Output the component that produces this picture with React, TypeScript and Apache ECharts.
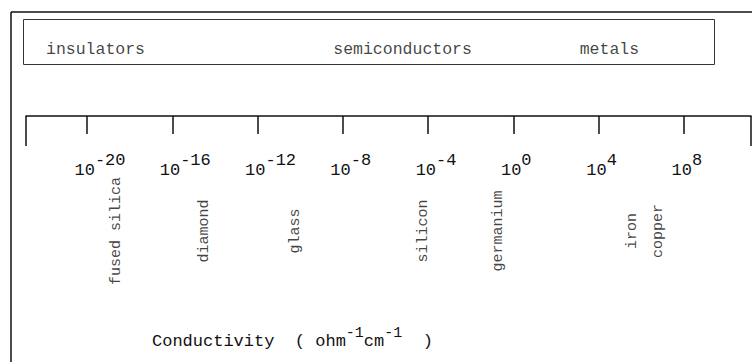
import { useEffect, useRef } from "react";
import * as echarts from "echarts";

const tickExponents = [-20, -16, -12, -8, -4, 0, 4, 8];
const classNames = ["insulators", "semiconductors", "metals"];
const classCenters = [-19.6, -5.2, 4.5];
const materials = ["fused silica", "diamond", "glass", "silicon", "germanium", "iron", "copper"];
const materialExponents = [-18.6, -14.5, -10.2, -4.2, -0.7, 5.6, 6.8];
const titleParts = ["Conductivity  ( ohm", "-1", "cm", "-1", "  )"];

const AXIS_MIN = -22.86;
const AXIS_MAX = 11.14;
const FONT = "Liberation Mono";
const CHAR_W = 10.2;

export default function App() {
  const ref = useRef<HTMLDivElement>(null);
  useEffect(() => {
    if (!ref.current) return;
    const chart = echarts.init(ref.current, null, { renderer: "svg" });
    const ink = "#111";
    const option: any = {
      animation: false,
      backgroundColor: "#fff",
      title: {
        left: 152,
        top: 327,
        padding: 0,
        text: `{a|${titleParts[0]}}{s|${titleParts[1]}}{a|${titleParts[2]}}{s|${titleParts[3]}}{a|${titleParts[4]}}`,
        textStyle: {
          fontWeight: "normal",
          rich: {
            a: { fontFamily: FONT, fontSize: 17, fontWeight: "normal", color: ink, lineHeight: 20, padding: [8, 0, 0, 0] },
            s: { fontFamily: FONT, fontSize: 15, fontWeight: "normal", color: ink, lineHeight: 20, padding: [0, 0, 8, 0] },
          },
        },
      },
      grid: [
        { left: 26, right: 1, top: 19, bottom: 246 },
        { left: 26, right: 1, top: 181, height: 100 },
      ],
      xAxis: [
        {
          gridIndex: 0,
          type: "value",
          min: AXIS_MIN,
          max: AXIS_MAX,
          position: "bottom",
          axisLine: { show: true, lineStyle: { color: ink, width: 1.5 } },
          axisTick: { show: true, customValues: tickExponents, length: 18, lineStyle: { color: ink, width: 1.5 } },
          splitLine: { show: false },
          axisLabel: {
            show: true,
            customValues: tickExponents,
            margin: 39,
            formatter: (v: number) => {
              const e = String(v);
              const rest = 3 - e.length;
              return `{p|}{b|10}{s|${e}}` + (rest > 0 ? `{q${rest}|}` : "");
            },
            rich: {
              p: { width: 26, lineHeight: 20 },
              q1: { width: CHAR_W, lineHeight: 20 },
              q2: { width: CHAR_W * 2, lineHeight: 20 },
              b: { fontFamily: FONT, fontSize: 17, color: ink, lineHeight: 20, padding: [10, 0, 0, 0] },
              s: { fontFamily: FONT, fontSize: 17, color: ink, lineHeight: 20, padding: [0, 0, 10, 0] },
            },
          },
        },
        {
          gridIndex: 0,
          type: "value",
          min: AXIS_MIN,
          max: AXIS_MAX,
          position: "bottom",
          axisLine: { show: false },
          axisTick: { show: true, customValues: [AXIS_MIN, AXIS_MAX], length: 30, lineStyle: { color: ink, width: 1.5 } },
          axisLabel: { show: false },
          splitLine: { show: false },
        },
        {
          gridIndex: 1,
          type: "value",
          min: AXIS_MIN,
          max: AXIS_MAX,
          show: false,
        },
      ],
      yAxis: [
        { gridIndex: 0, type: "value", min: 0, max: 1, show: false },
        { gridIndex: 1, type: "value", min: 0, max: 1, show: false },
      ],
      graphic: [
        { type: "line", shape: { x1: 11, y1: 12, x2: 752, y2: 12 }, style: { stroke: ink, lineWidth: 1.5 } },
        { type: "line", shape: { x1: 11, y1: 12, x2: 11, y2: 362 }, style: { stroke: ink, lineWidth: 1.5 } },
        { type: "rect", shape: { x: 23.5, y: 19.5, width: 691, height: 45 }, style: { fill: "none", stroke: "#333", lineWidth: 1 } },
      ],
      series: [
        {
          type: "scatter",
          xAxisIndex: 0,
          yAxisIndex: 0,
          symbolSize: 1,
          itemStyle: { color: "rgba(0,0,0,0)" },
          silent: true,
          data: classNames.map((n, i) => ({ name: n, value: [classCenters[i], 0.69] })),
          label: { show: true, position: "inside", formatter: "{b}", fontFamily: FONT, fontSize: 16.5, color: ink },
        },
        {
          type: "scatter",
          xAxisIndex: 2,
          yAxisIndex: 1,
          symbolSize: 1,
          itemStyle: { color: "rgba(0,0,0,0)" },
          silent: true,
          data: materials.map((n, i) => ({ name: n, value: [materialExponents[i], 0.5] })),
          label: { show: true, position: "inside", rotate: 90, formatter: "{b}", fontFamily: FONT, fontSize: 15, color: ink },
        },
      ],
    };
    chart.setOption(option);
    return () => chart.dispose();
  }, []);
  return <div ref={ref} style={{ position: "absolute", left: 0, top: 0, width: 752, height: 362 }} />;
}
